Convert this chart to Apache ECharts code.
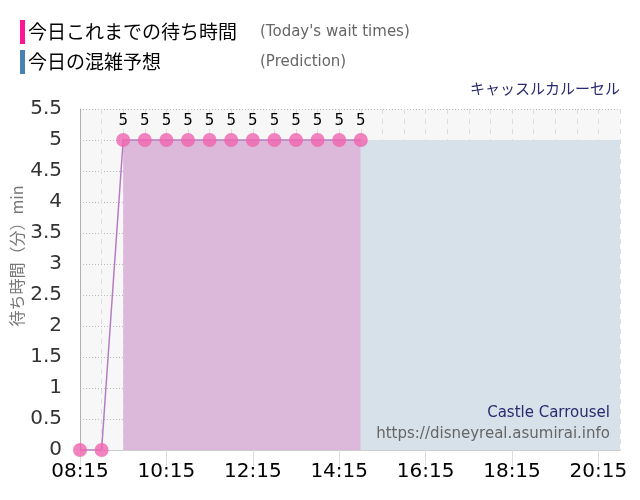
<!DOCTYPE html>
<html><head><meta charset="utf-8">
<script src="https://cdn.jsdelivr.net/npm/echarts@6/dist/echarts.min.js"></script>
<style>html,body{margin:0;padding:0;background:#fff}#c{width:640px;height:500px}</style>
</head><body><div id="c"></div>
<script>
// Time categories (30-min steps)
const times = ['08:15','08:45','09:15','09:45','10:15','10:45','11:15','11:45','12:15','12:45','13:15','13:45','14:15','14:45','15:15','15:45','16:15','16:45','17:15','17:45','18:15','18:45','19:15','19:45','20:15','20:45'];
// Today's actual wait times (minutes)
const waitTimes = [0,0,5,5,5,5,5,5,5,5,5,5,5,5];
// Predicted wait times (minutes)
const prediction = [null,null,5,5,5,5,5,5,5,5,5,5,5,5,5,5,5,5,5,5,5,5,5,5,5,5];
const yTicks = [0,0.5,1,1.5,2,2.5,3,3.5,4,4.5,5,5.5];

const nowIdx = waitTimes.length - 1;
const predPast = prediction.map((v,i)=> i<=nowIdx ? v : null);
const predFuture = prediction.map((v,i)=> i>=nowIdx ? v : null);

const latin = '"DejaVu Sans", Verdana, sans-serif';
const jp = '"Noto Sans CJK JP", sans-serif';

const chart = echarts.init(document.getElementById('c'), null, {renderer:'canvas'});
chart.setOption({
  animation:false,
  backgroundColor:'#fff',
  grid:{left:80,right:20,top:109,bottom:50,show:true,backgroundColor:'#f7f7f7',borderWidth:0,
        containLabel:false,outerBoundsMode:'none'},
  xAxis:{
    type:'category', data:times, boundaryGap:false,
    axisLine:{show:true,lineStyle:{color:'#cccccc'}},
    axisTick:{show:true,interval:3,length:16,lineStyle:{color:'#dddddd'}},
    axisLabel:{interval:3,color:'#000',fontSize:20,fontFamily:latin,margin:12},
    splitLine:{show:true,interval:0,lineStyle:{color:'#dcdcdc',type:[5,5],width:1}}
  },
  yAxis:{
    type:'value', min:0, max:5.5, interval:0.5,
    axisLine:{show:true,lineStyle:{color:'#b0b0b0'}},
    axisTick:{show:false},
    axisLabel:{color:'#333',fontSize:20,fontFamily:latin,margin:18,
      formatter:v=> yTicks.includes(v)? String(v):''},
    splitLine:{show:true,lineStyle:{color:'#bbbbbb',type:[1,2],width:1}}
  },
  series:[
    {type:'line',data:predPast,symbol:'none',lineStyle:{width:0,opacity:0},
      areaStyle:{color:'#dcb9da',opacity:1},z:1},
    {type:'line',data:predFuture,symbol:'none',lineStyle:{width:0,opacity:0},
      areaStyle:{color:'#d6e1e9',opacity:1},z:1},
    {type:'line',data:waitTimes,symbol:'circle',symbolSize:14,showSymbol:true,showAllSymbol:true,
      itemStyle:{color:'rgba(240,100,175,0.8)'},
      lineStyle:{color:'#b57cc4',width:1.5},
      labelLayout:{hideOverlap:false},
      label:{show:true,position:'top',distance:4,color:'#000',fontSize:15,fontFamily:latin,
        formatter:p=> p.value>0 ? String(p.value):''},
      z:3}
  ],
  graphic:[
    {type:'rect',left:20,top:20,z:100,shape:{width:5,height:24},style:{fill:'#ff1493'}},
    {type:'text',left:28,top:22,z:100,style:{text:'今日これまでの待ち時間',fill:'#000',font:'19px '+jp}},
    {type:'text',left:260,top:25,z:100,style:{text:"(Today's wait times)",fill:'#666',font:'15px '+latin}},
    {type:'rect',left:20,top:50,z:100,shape:{width:5,height:24},style:{fill:'#4682b4'}},
    {type:'text',left:28,top:52,z:100,style:{text:'今日の混雑予想',fill:'#000',font:'19px '+jp}},
    {type:'text',left:260,top:55,z:100,style:{text:'(Prediction)',fill:'#666',font:'15px '+latin}},
    {type:'text',right:20,top:81,z:100,style:{text:'キャッスルカルーセル',fill:'#2a2a6e',font:'15px '+jp}},
    {type:'text',x:17,y:256,rotation:Math.PI/2,z:100,
      style:{text:'待ち時間（分）min',fill:'#777',font:'16px '+jp,align:'center',verticalAlign:'middle'}},
    {type:'text',right:30,top:406,z:100,style:{text:'Castle Carrousel',fill:'#2a2a6e',font:'15px '+latin}},
    {type:'text',right:30,top:427,z:100,style:{text:'https://disneyreal.asumirai.info',fill:'#666',font:'15px '+latin}}
  ]
});
</script></body></html>
